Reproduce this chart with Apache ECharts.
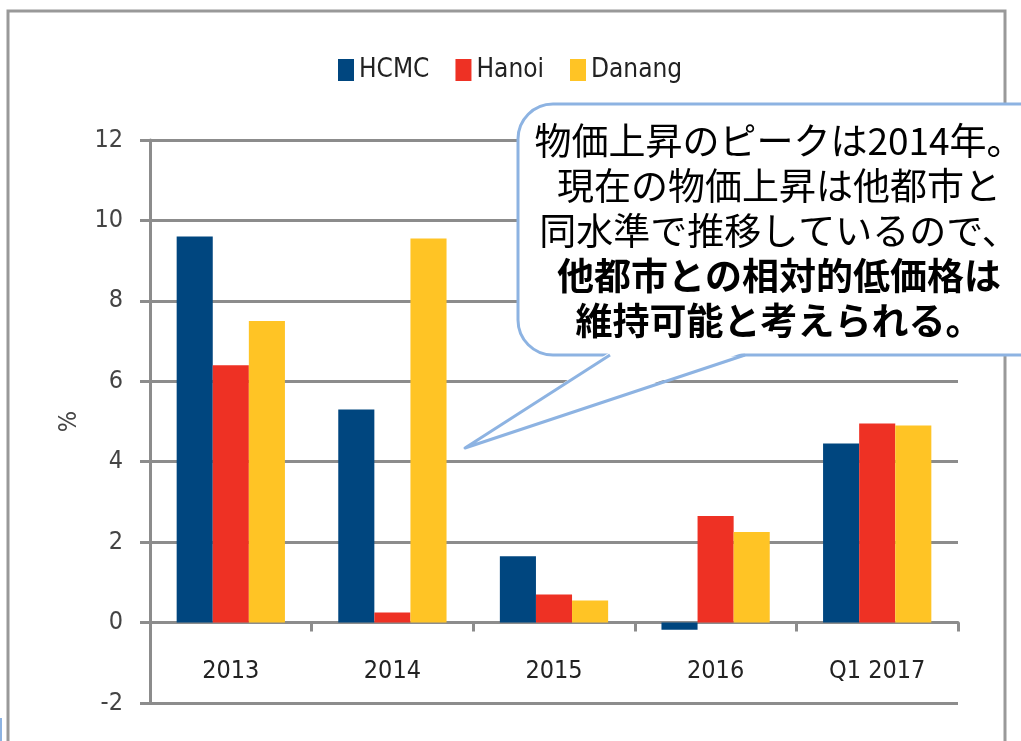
<!DOCTYPE html>
<html>
<head>
<meta charset="utf-8">
<script src="https://cdn.jsdelivr.net/npm/echarts@6/dist/echarts.min.js"></script>
<style>
  html, body { margin: 0; padding: 0; background: #fff; }
  #chart { width: 1021px; height: 741px; }
</style>
</head>
<body>
<div id="chart"></div>
<script>
// data
const categories = ['2013', '2014', '2015', '2016', 'Q1 2017']
const hcmc = [9.6, 5.3, 1.65, -0.18, 4.45]
const hanoi = [6.4, 0.25, 0.7, 2.65, 4.95]
const danang = [7.5, 9.55, 0.55, 2.25, 4.9]
const seriesNames = ['HCMC', 'Hanoi', 'Danang']

const latin = "'DejaVu Sans Condensed', 'DejaVu Sans', sans-serif"
const jp = "'Noto Sans CJK JP', sans-serif"
const gray = '#8c8c8c'
const calloutBlue = '#8db3e2'

const myChart = echarts.init(document.getElementById('chart'))

const option = {
  animation: false,
  backgroundColor: '#fff',
  color: ['#00467f', '#ee3124', '#ffc425'],
  legend: {
    data: seriesNames,
    left: 333,
    top: 52,
    icon: 'rect',
    itemWidth: 16,
    itemHeight: 22,
    itemGap: 26,
    textStyle: { fontFamily: latin, fontSize: 26, color: '#222' }
  },
  grid: { left: 150, right: 63, top: 140, bottom: 38, outerBoundsMode: 'none' },
  xAxis: {
    type: 'category',
    data: categories,
    axisLine: { onZero: true, lineStyle: { color: gray, width: 3 } },
    axisTick: { show: true, length: 9, lineStyle: { color: gray, width: 3 } },
    // labels sit between the zero line and the -2 gridline
    axisLabel: { margin: -44, fontFamily: latin, fontSize: 25, color: '#222' }
  },
  yAxis: {
    type: 'value',
    min: -2,
    max: 12,
    interval: 2,
    name: '%',
    nameLocation: 'middle',
    nameGap: 68,
    nameTextStyle: { fontFamily: latin, fontSize: 25, color: '#444' },
    axisLine: { show: true, lineStyle: { color: gray, width: 3 } },
    axisTick: { show: true, length: 10, lineStyle: { color: gray, width: 3 } },
    axisLabel: { margin: 27, fontFamily: latin, fontSize: 25, color: '#444' },
    splitLine: { lineStyle: { color: gray, width: 3 } }
  },
  series: [
    { name: seriesNames[0], type: 'bar', data: hcmc, barGap: 0, barCategoryGap: '33%' },
    { name: seriesNames[1], type: 'bar', data: hanoi, barGap: 0, barCategoryGap: '33%' },
    { name: seriesNames[2], type: 'bar', data: danang, barGap: 0, barCategoryGap: '33%' }
  ],
  graphic: [
    // outer frame
    {
      type: 'rect',
      z: -10,
      silent: true,
      shape: { x: 8, y: 11, width: 997, height: 800 },
      style: { fill: 'none', stroke: '#999', lineWidth: 3 }
    },
    {
      type: 'line',
      silent: true,
      shape: { x1: 1, y1: 718, x2: 1, y2: 741 },
      style: { stroke: calloutBlue, lineWidth: 2 }
    },
    // callout box
    {
      type: 'rect',
      z: 100,
      silent: true,
      shape: { x: 518, y: 104, width: 560, height: 251, r: [35, 0, 0, 35] },
      style: { fill: '#fff', stroke: calloutBlue, lineWidth: 3 }
    },
    {
      type: 'polygon',
      z: 101,
      silent: true,
      shape: { points: [[610, 352], [465, 448], [745, 352]] },
      style: { fill: '#fff' }
    },
    {
      type: 'polyline',
      z: 102,
      silent: true,
      shape: { points: [[610, 355], [465, 448], [745, 355]] },
      style: { fill: null, stroke: calloutBlue, lineWidth: 3, lineJoin: 'round' }
    },
    {
      type: 'text',
      z: 103,
      silent: true,
      x: 779,
      y: 118,
      style: {
        text: '{n|物価上昇のピークは2014年。}\n{n|現在の物価上昇は他都市と}\n{n|同水準で推移しているので、}\n{b|他都市との相対的低価格は}\n{b|維持可能と考えられる。}',
        align: 'center',
        verticalAlign: 'top',
        rich: {
          n: { fontFamily: jp, fontSize: 37, lineHeight: 45, color: '#595959' },
          b: { fontFamily: jp, fontSize: 37, lineHeight: 45, color: '#595959', fontWeight: 'bold' }
        }
      }
    }
  ]
}

myChart.setOption(option)
</script>
</body>
</html>
